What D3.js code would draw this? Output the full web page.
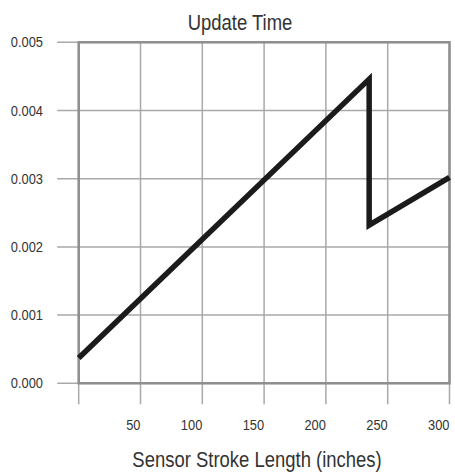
<!DOCTYPE html>
<html>
<head>
<meta charset="utf-8">
<script src="https://cdn.jsdelivr.net/npm/d3@7"></script>
<style>
  body { margin: 0; background: #fff; }
  svg { display: block; }
  text { font-family: "Liberation Sans", Arial, sans-serif; fill: #333; }
</style>
</head>
<body>
<div id="chart"></div>
<script>
// Data
const strokeLength = [0, 235, 235, 300];           // inches
const updateTime = [0.00037, 0.00446, 0.00232, 0.00302]; // seconds
const xTicks = [0, 50, 100, 150, 200, 250, 300];
const xTickLabels = ["", "50", "100", "150", "200", "250", "300"];
const yTicks = [0, 0.001, 0.002, 0.003, 0.004, 0.005];
const yTickLabels = ["0.000", "0.001", "0.002", "0.003", "0.004", "0.005"];

const width = 455;
const height = 476;
const margin = { top: 42.3, right: 5.5, bottom: 92.7, left: 78.7 };

const x = d3.scaleLinear()
  .domain([0, 300])
  .range([margin.left, width - margin.right]);

const y = d3.scaleLinear()
  .domain([0, 0.005])
  .range([height - margin.bottom, margin.top]);

const svg = d3.select("#chart").append("svg")
  .attr("width", width)
  .attr("height", height);

const gridColor = "#a9a9a9";
const borderColor = "#8e8e8e";

// narrow face: squeeze the text horizontally around its anchor point
const narrow = (px, py, k) => `translate(${px},${py}) scale(${k},1)`;

// vertical grid lines, running past the bottom edge as ticks
svg.append("g")
  .selectAll("line")
  .data(xTicks)
  .join("line")
    .attr("x1", d => x(d))
    .attr("x2", d => x(d))
    .attr("y1", y(0.005))
    .attr("y2", y(0) + 21)
    .attr("stroke", gridColor)
    .attr("stroke-width", 1.5);

// horizontal grid lines, running past the left edge as ticks
svg.append("g")
  .selectAll("line")
  .data(yTicks)
  .join("line")
    .attr("x1", x(0) - 21.5)
    .attr("x2", x(300))
    .attr("y1", d => y(d))
    .attr("y2", d => y(d))
    .attr("stroke", gridColor)
    .attr("stroke-width", 1.5);

// plot frame
svg.append("rect")
  .attr("x", x(0))
  .attr("y", y(0.005))
  .attr("width", x(300) - x(0))
  .attr("height", y(0) - y(0.005))
  .attr("fill", "none")
  .attr("stroke", borderColor)
  .attr("stroke-width", 2.5);

// tick labels
svg.append("g")
  .selectAll("text")
  .data(xTicks)
  .join("text")
    .attr("transform", d => narrow(x(d), 430, 0.92))
    .attr("text-anchor", "end")
    .attr("font-size", 14)
    .text((d, i) => xTickLabels[i]);

svg.append("g")
  .selectAll("text")
  .data(yTicks)
  .join("text")
    .attr("transform", d => narrow(43, y(d) + 5, 0.92))
    .attr("text-anchor", "end")
    .attr("font-size", 14)
    .text((d, i) => yTickLabels[i]);

// the series
const line = d3.line()
  .x(d => x(d[0]))
  .y(d => y(d[1]));

svg.append("path")
  .datum(d3.zip(strokeLength, updateTime))
  .attr("d", line)
  .attr("fill", "none")
  .attr("stroke", "#1b1b1b")
  .attr("stroke-width", 5.5)
  .attr("stroke-linejoin", "miter");

// titles
svg.append("text")
  .attr("transform", narrow(240, 30, 0.84))
  .attr("text-anchor", "middle")
  .attr("font-size", 22)
  .text("Update Time");

svg.append("text")
  .attr("transform", narrow(257, 467, 0.84))
  .attr("text-anchor", "middle")
  .attr("font-size", 22)
  .text("Sensor Stroke Length (inches)");
</script>
</body>
</html>
